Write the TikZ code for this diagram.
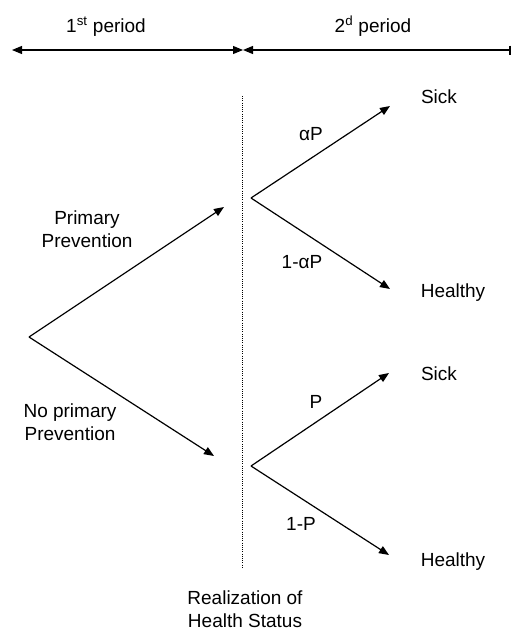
\documentclass[tikz,border=0pt]{standalone}
\usepackage{fontspec}
\setmainfont{Liberation Sans}
\usetikzlibrary{arrows.meta}
\begin{document}
\begin{tikzpicture}[x=1pt,y=-1pt,
  lbl/.style={inner sep=0pt,outer sep=0pt,anchor=base,font=\fontsize{19}{23}\selectfont,align=center},
  arr/.style={line width=1.2pt,-{Triangle[length=10pt,width=8pt]}},
  span/.style={line width=1.1pt,{Triangle[length=10pt,width=8pt]}-{Triangle[length=10pt,width=8pt]}},
  guide/.style={line width=0.8pt,dash pattern=on 1pt off 1.2pt}]
\useasboundingbox (0,0) rectangle (512,637);
% time axis
\coordinate (tl) at (12,50);
\coordinate (tm) at (243,50);
\coordinate (tr) at (510.5,50);
\draw[span] (tl) -- (tm);
\draw[line width=1.1pt,{Triangle[length=10pt,width=8pt]}-{Bar[width=9pt,line width=2pt]}] (tm) -- (tr);
\node[lbl] (p1) at (106,32) {1\textsuperscript{st} period};
\node[lbl] (p2) at (373,32) {2\textsuperscript{d} period};
% dotted separator
\coordinate (dtop) at (242,96);
\coordinate (dbot) at (242,567);
\draw[guide] (dtop) -- (dbot);
% first decision
\coordinate (root) at (29,337);
\coordinate (pp) at (224,207);
\coordinate (np) at (214,456);
\draw[arr] (root) -- (pp);
\draw[arr] (root) -- (np);
\node[lbl] (lpp) at (87,247) {Primary\\Prevention};
\node[lbl] (lnp) at (70,440) {No primary\\Prevention};
% upper chance node
\coordinate (u) at (251,198);
\coordinate (us) at (390,106);
\coordinate (uh) at (390,289);
\draw[arr] (u) -- (us);
\draw[arr] (u) -- (uh);
\node[lbl] (usick) at (439,103) {Sick};
\node[lbl] (uhealthy) at (453,297) {Healthy};
\node[lbl] (ap) at (311,140) {αP};
\node[lbl] (oap) at (302,268) {1-αP};
% lower chance node
\coordinate (l) at (251,466);
\coordinate (ls) at (389,373);
\coordinate (lh) at (389,555);
\draw[arr] (l) -- (ls);
\draw[arr] (l) -- (lh);
\node[lbl] (lsick) at (439,380) {Sick};
\node[lbl] (lhealthy) at (453,566) {Healthy};
\node[lbl] (pl) at (316,408) {P};
\node[lbl] (opl) at (301,530) {1-P};
% bottom caption
\node[lbl] (real) at (245,627) {Realization of\\Health Status};
\end{tikzpicture}
\end{document}
